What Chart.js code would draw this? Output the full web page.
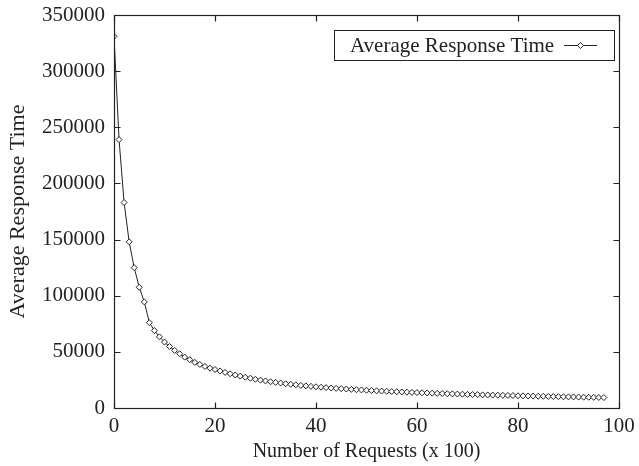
<!DOCTYPE html>
<html>
<head>
<meta charset="utf-8">
<script src="https://cdn.jsdelivr.net/npm/chart.js@4.4.0/dist/chart.umd.min.js"></script>
<style>
html,body{margin:0;padding:0;background:#fff;}
#wrap{width:639px;height:466px;}
</style>
</head>
<body>
<div id="wrap"><canvas id="c" width="639" height="466"></canvas></div>
<script>
// requests (x 100) and the measured average response time
const requests = [];
for(let i = 0; i <= 97; i++) requests.push(i);
const responseTime = [
331000, 239000, 183000, 148000, 125000, 107500, 94500, 76000, 69000, 63400,
58700, 54800, 51300, 48300, 45300, 43000, 40600, 38800, 37000, 35500,
34300, 33000, 31700, 30500, 29400, 28400, 27400, 26500, 25600, 24800,
24100, 23400, 22800, 22200, 21600, 21100, 20600, 20100, 19700, 19300,
18900, 18500, 18200, 17800, 17500, 17200, 16900, 16600, 16300, 16100,
15800, 15600, 15300, 15100, 14900, 14700, 14500, 14300, 14100, 13900,
13700, 13500, 13400, 13200, 13000, 12900, 12700, 12600, 12400, 12300,
12100, 12000, 11900, 11700, 11600, 11500, 11400, 11300, 11200, 11100,
10900, 10800, 10700, 10600, 10500, 10400, 10300, 10200, 10100, 10000,
9900, 9850, 9750, 9650, 9550, 9500, 9400, 9300
];
const xTicks = [0, 20, 40, 60, 80, 100];
const yTicks = [0, 50000, 100000, 150000, 200000, 250000, 300000, 350000];
const seriesName = 'Average Response Time';

const FONT = '"Liberation Serif", "Times New Roman", serif';
const INK = '#222';

// frame round the plot with inward ticks on every side
const framePlugin = {
  id: 'frame',
  afterDatasetsDraw(chart){
    const {ctx, chartArea:a, scales} = chart;
    const L = Math.round(a.left)+0.5, R = Math.round(a.right)+0.5;
    const T = Math.round(a.top)+0.5, B = Math.round(a.bottom)+0.5;
    ctx.save();
    ctx.strokeStyle = INK; ctx.lineWidth = 1.2;
    ctx.strokeRect(L, T, R-L, B-T);
    ctx.beginPath();
    yTicks.forEach(v=>{
      const y = Math.round(scales.y.getPixelForValue(v))+0.5;
      ctx.moveTo(L, y); ctx.lineTo(L+6, y);
      ctx.moveTo(R, y); ctx.lineTo(R-6, y);
    });
    xTicks.forEach(v=>{
      const x = Math.round(scales.x.getPixelForValue(v))+0.5;
      ctx.moveTo(x, B); ctx.lineTo(x, B-6);
      ctx.moveTo(x, T); ctx.lineTo(x, T+6);
    });
    ctx.stroke();
    ctx.restore();
  }
};

// key box: name first, then the line sample
const keyPlugin = {
  id: 'key',
  afterDraw(chart){
    const ctx = chart.ctx;
    const x0 = 334.5, y0 = 30.5, w = 280, h = 30;
    ctx.save();
    ctx.strokeStyle = INK; ctx.lineWidth = 1;
    ctx.strokeRect(x0, y0, w, h);
    ctx.fillStyle = INK;
    ctx.font = '21px ' + FONT;
    ctx.textBaseline = 'middle';
    ctx.fillText(seriesName, 350, y0 + h/2 + 1);
    const ly = y0 + h/2;
    ctx.beginPath(); ctx.moveTo(564, ly); ctx.lineTo(597, ly); ctx.stroke();
    ctx.beginPath();
    ctx.moveTo(580.5, ly-3); ctx.lineTo(583.5, ly); ctx.lineTo(580.5, ly+3); ctx.lineTo(577.5, ly);
    ctx.closePath();
    ctx.fillStyle = '#fff'; ctx.fill(); ctx.stroke();
    ctx.restore();
  }
};

new Chart(document.getElementById('c'), {
  type: 'line',
  data: {
    labels: requests,
    datasets: [{
      label: seriesName,
      data: responseTime,
      borderColor: INK,
      borderWidth: 1,
      pointStyle: 'rectRot',
      pointRadius: 3,
      pointBorderWidth: 1,
      pointBorderColor: INK,
      pointBackgroundColor: '#fff',
      tension: 0
    }]
  },
  options: {
    responsive: false,
    animation: false,
    layout: { padding: { top: 15, right: 20, left: 0, bottom: 0 } },
    plugins: { legend: { display: false }, tooltip: { enabled: false } },
    scales: {
      x: {
        type: 'linear', min: 0, max: 100,
        afterBuildTicks(s){ s.ticks = xTicks.map(v=>({value:v})); },
        afterFit(s){ s.height = 58; s.paddingLeft = 0; s.paddingRight = 0; },
        grid: { display: false, drawTicks: false },
        border: { display: false },
        ticks: { padding: 6, color: INK, font: { family: FONT, size: 21 }, maxRotation: 0 },
        title: { display: true, text: 'Number of Requests (x 100)', color: INK,
                 font: { family: FONT, size: 20 }, padding: { top: 0, bottom: 2 } }
      },
      y: {
        min: 0, max: 350000,
        afterBuildTicks(s){ s.ticks = yTicks.map(v=>({value:v})); },
        afterFit(s){ s.width = 114; s.paddingTop = 0; s.paddingBottom = 0; },
        grid: { display: false, drawTicks: false },
        border: { display: false },
        ticks: { padding: 9, color: INK, font: { family: FONT, size: 21 },
                 callback: v => String(v) },
        title: { display: true, text: 'Average Response Time', color: INK,
                 font: { family: FONT, size: 22 }, padding: { top: 5, bottom: 0 } }
      }
    }
  },
  plugins: [framePlugin, keyPlugin]
});
</script>
</body>
</html>
